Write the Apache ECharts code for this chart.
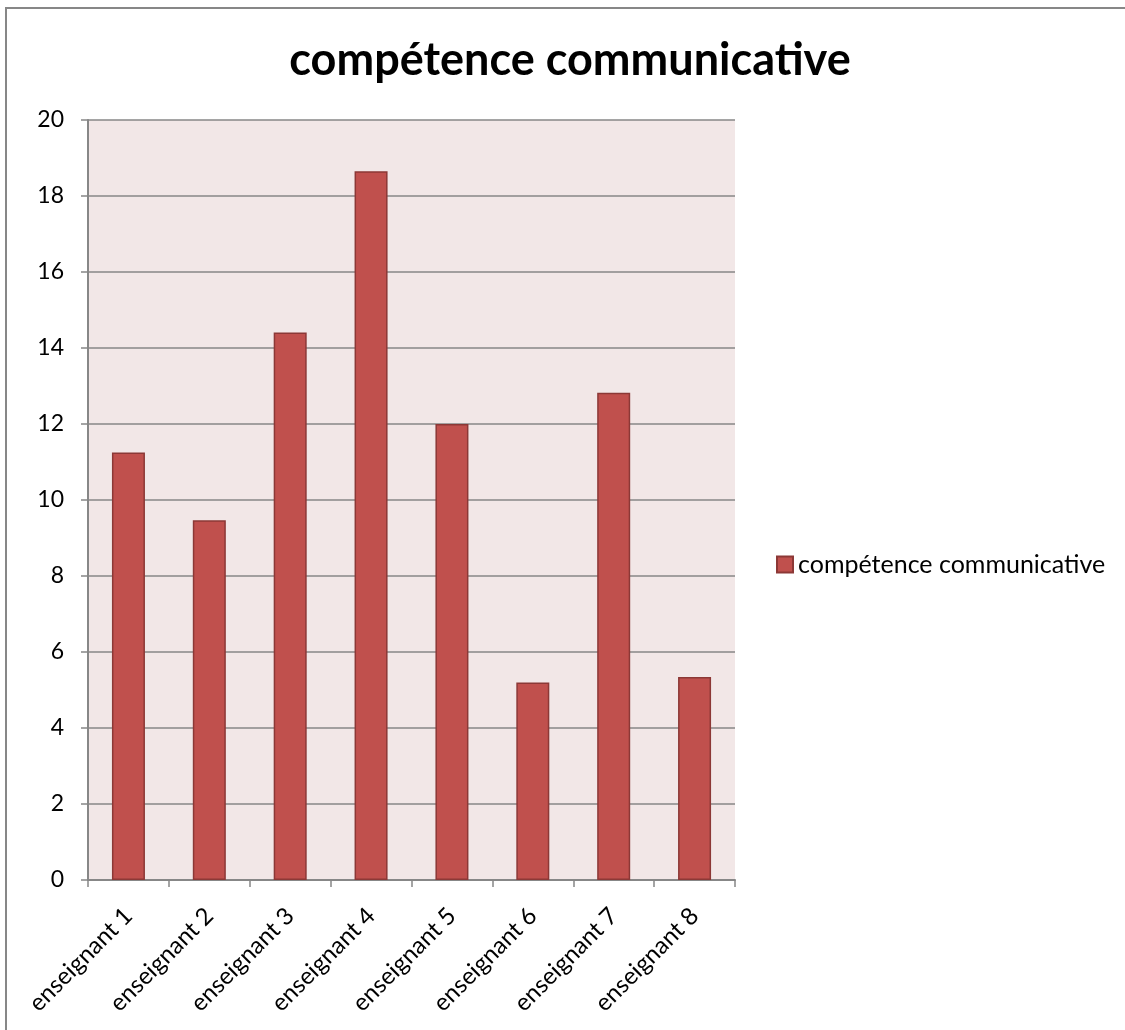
<!DOCTYPE html>
<html>
<head>
<meta charset="utf-8">
<script src="https://cdn.jsdelivr.net/npm/echarts@6/dist/echarts.min.js"></script>
<style>
  html, body { margin: 0; padding: 0; background: #ffffff; }
  #chart { width: 1125px; height: 1030px; }
</style>
</head>
<body>
<div id="chart"></div>
<script>
// Scores per teacher
const categories = ['enseignant 1', 'enseignant 2', 'enseignant 3', 'enseignant 4',
                    'enseignant 5', 'enseignant 6', 'enseignant 7', 'enseignant 8'];
const seriesName = 'compétence communicative';
const values = [11.25, 9.47, 14.41, 18.65, 12.0, 5.2, 12.82, 5.34];
const yTicks = { min: 0, max: 20, interval: 2 };

const FONT = 'Lato, "Open Sans", sans-serif';
const GRID_COLOR = '#878787';

const chart = echarts.init(document.getElementById('chart'), null, { renderer: 'canvas' });

chart.setOption({
  animation: false,
  backgroundColor: '#ffffff',
  title: {
    text: seriesName,
    left: 565,
    top: 33,
    textAlign: 'center',
    textStyle: { fontFamily: FONT, fontSize: 45, fontWeight: 'bold', color: '#000000' }
  },
  legend: {
    data: [seriesName],
    left: 771,
    top: 547,
    orient: 'vertical',
    icon: 'rect',
    itemWidth: 16,
    itemHeight: 16,
    itemGap: 6,
    textStyle: { fontFamily: FONT, fontSize: 25, color: '#000000', padding: [0, 0, 0, 0] }
  },
  graphic: [{
    type: 'rect',
    shape: { x: 6, y: 8, width: 1140, height: 1050 },
    style: { fill: 'none', stroke: '#878787', lineWidth: 2 },
    silent: true,
    z: 100
  }],
  grid: {
    left: 88,
    right: 390,
    top: 120,
    bottom: 150,
    show: true,
    backgroundColor: '#f2e7e7',
    borderWidth: 0
  },
  xAxis: {
    type: 'category',
    data: categories,
    boundaryGap: true,
    axisLine: { show: true, lineStyle: { color: GRID_COLOR, width: 2 } },
    axisTick: { show: true, alignWithLabel: false, length: 7, lineStyle: { color: GRID_COLOR, width: 1.5 } },
    axisLabel: {
      rotate: 45,
      interval: 0,
      margin: 32,
      fontFamily: FONT,
      fontSize: 24,
      color: '#000000'
    },
    splitLine: { show: false }
  },
  yAxis: {
    type: 'value',
    min: yTicks.min,
    max: yTicks.max,
    interval: yTicks.interval,
    axisLine: { show: true, lineStyle: { color: GRID_COLOR, width: 2 } },
    axisTick: { show: true, length: 7, lineStyle: { color: GRID_COLOR, width: 1.5 } },
    axisLabel: { fontFamily: FONT, fontSize: 23, color: '#000000', margin: 24 },
    splitLine: { show: true, lineStyle: { color: GRID_COLOR, width: 1.5 } }
  },
  series: [{
    name: seriesName,
    type: 'bar',
    data: values,
    barWidth: 33,
    itemStyle: {
      color: '#c0504d',
      borderColor: '#8c3836',
      borderWidth: 1.5
    }
  }]
});
</script>
</body>
</html>
